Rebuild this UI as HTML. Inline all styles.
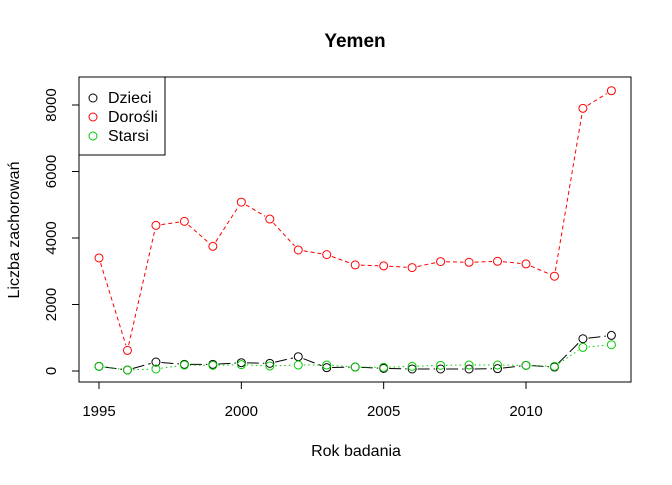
<!DOCTYPE html>
<html><head><meta charset="utf-8"><style>body{margin:0;background:#fff}svg{font-family:"Liberation Sans",sans-serif}</style></head>
<body>
<svg id="c" width="672" height="480" viewBox="0 0 672 480">
<text x="355" y="47" text-anchor="middle" font-size="19" font-weight="bold">Yemen</text>
<rect x="79" y="77" width="552" height="305" fill="none" stroke="#000"/>
<text x="356" y="456" text-anchor="middle" font-size="16">Rok badania</text>
<text transform="translate(19,230) rotate(-90)" text-anchor="middle" font-size="16">Liczba zachorowań</text>
<g id="ax"></g><g id="marks"></g>
<g>
<rect x="79" y="77" width="86" height="78" fill="#fff" stroke="#000"/>
<circle cx="93" cy="98" r="4" fill="none" stroke="#000"/><text x="108" y="103" font-size="16">Dzieci</text>
<circle cx="93" cy="117" r="4" fill="none" stroke="#f00"/><text x="108" y="122" font-size="16">Dorośli</text>
<circle cx="93" cy="136" r="4" fill="none" stroke="#0c0"/><text x="108" y="141" font-size="16">Starsi</text>
</g>
</svg>
<script>
const years=[1995,1996,1997,1998,1999,2000,2001,2002,2003,2004,2005,2006,2007,2008,2009,2010,2011,2012,2013];
const dzieci=[140,30,270,200,200,250,230,430,100,120,80,60,60,60,70,170,120,970,1070];
const dorosli=[3400,620,4380,4500,3750,5080,4570,3640,3500,3190,3160,3110,3290,3270,3300,3220,2850,7900,8430];
const starsi=[140,30,60,180,170,190,150,180,180,120,110,140,170,180,180,170,140,710,790];
const xTicks=[1995,2000,2005,2010];
const yTicks=[0,2000,4000,6000,8000];
const NS="http://www.w3.org/2000/svg";
const X=v=>99+(v-1995)*427/15;
const Y=v=>371-v*0.03325;
function mk(t,a,p){const e=document.createElementNS(NS,t);for(const k in a)e.setAttribute(k,a[k]);p.appendChild(e);return e;}
const ax=document.getElementById('ax');
mk('line',{x1:X(1995),x2:X(2010),y1:382,y2:382,stroke:'#000'},ax);
xTicks.forEach(v=>{mk('line',{x1:X(v),x2:X(v),y1:382,y2:389,stroke:'#000'},ax);
const t=mk('text',{x:X(v),y:416,'text-anchor':'middle','font-size':15},ax);t.textContent=v;

});
mk('line',{x1:79,x2:79,y1:Y(0),y2:Y(8000),stroke:'#000'},ax);
yTicks.forEach(v=>{mk('line',{x1:72,x2:79,y1:Y(v),y2:Y(v),stroke:'#000'},ax);
const t=mk('text',{transform:`translate(56,${Y(v)}) rotate(-90)`,'text-anchor':'middle','font-size':15},ax);t.textContent=v;

});
const m=document.getElementById('marks');
function series(d,col,dash,name){
const g=mk('g',{},m);


for(let i=0;i<d.length-1;i++){
const x1=X(years[i]),y1=Y(d[i]),x2=X(years[i+1]),y2=Y(d[i+1]);
const dx=x2-x1,dy=y2-y1,L=Math.hypot(dx,dy);if(L<11)continue;
const ux=dx/L,uy=dy/L;
mk('line',{x1:x1+ux*5.5,y1:y1+uy*5.5,x2:x2-ux*5.5,y2:y2-uy*5.5,stroke:col,'stroke-dasharray':dash},g);}
d.forEach((v,i)=>{const c=mk('circle',{cx:X(years[i]),cy:Y(v),r:4,fill:'none',stroke:col},g);

});}
series(dzieci,'#000','12 4','series-dzieci');
series(dorosli,'#f00','4 3','series-dorosli');
series(starsi,'#0c0','1.5 3','series-starsi');
</script>
</body></html>
